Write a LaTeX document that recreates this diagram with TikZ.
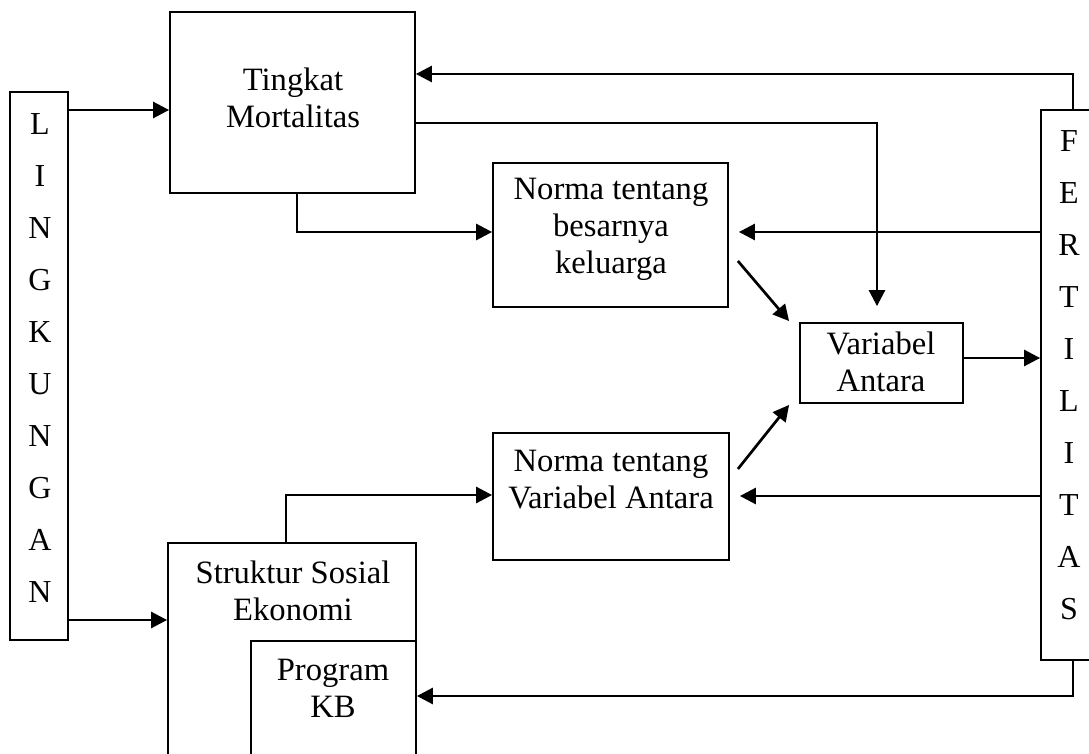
\documentclass[tikz,border=0pt]{standalone}
\usepackage{fontspec}
\setmainfont{Liberation Serif}
\usetikzlibrary{arrows.meta}
\tikzset{
	box/.style={draw, line width=0.9pt, inner sep=0pt, align=center, font=\fontsize{16}{18.5}\selectfont},
	txt/.style={align=center, inner sep=0pt, font=\fontsize{16.3}{18.5}\selectfont},
	letters/.style={align=center, inner sep=0pt, font=\fontsize{16}{26}\selectfont},
	arr/.style={line width=1.35pt, -{Triangle[length=8pt, width=8pt]}}
}

\begin{document}
\begin{tikzpicture}[x=0.5pt, y=-0.5pt]
	\useasboundingbox (0,0) rectangle (1089,754);
	
	% boxes
	\node[box, minimum width=29pt, minimum height=274pt] (lingk) at (39,366) {};
	\node[letters] (lingk-l) at (40,358) {L\\I\\N\\G\\K\\U\\N\\G\\A\\N};
	\node[box, minimum width=29.5pt, minimum height=275pt] (fert) at (1070.5,385) {};
	\node[letters] (fert-l) at (1069,375) {F\\E\\R\\T\\I\\L\\I\\T\\A\\S};
	
	\node[box, minimum width=122.5pt, minimum height=90.5pt] (tingkat) at (292.5,102.5) {};
	\node[txt] (tingkat-l) at (293,98) {Tingkat\\Mortalitas};
	\node[box, minimum width=117.5pt, minimum height=72pt] (normaA) at (610.5,235) {};
	\node[txt] (normaA-l) at (611,229) {Norma tentang\\besarnya\\keluarga};
	\node[box, minimum width=81.5pt, minimum height=40pt] (varant) at (881.5,363) {};
	\node[txt] (varant-l) at (881,362) {Variabel\\Antara};
	\node[box, minimum width=118pt, minimum height=63.5pt] (normaB) at (611,496.5) {};
	\node[txt] (normaB-l) at (611,480) {Norma tentang\\Variabel Antara};
	\node[box, minimum width=124pt, minimum height=118.5pt] (struktur) at (292,661.5) {};
	\node[txt] (struktur-l) at (293,591) {Struktur Sosial\\Ekonomi};
	\node[box, fill=white, minimum width=82.5pt, minimum height=69.5pt] (program) at (333.5,710.5) {};
	\node[txt] (program-l) at (333,688) {Program\\KB};
	
	% connectors
	\draw[arr] (lingk.east |- 0,110) -- (tingkat.west |- 0,110);
	\draw[arr] (lingk.east |- 0,620) -- (struktur.west |- 0,620);
	\draw[arr] (fert.north -| 1073,0) |- (tingkat.east |- 0,74);
	\draw[arr] (fert.south -| 1073,0) |- (program.east |- 0,696);
	\draw[arr] (tingkat.south -| 297,0) |- (normaA.west |- 0,232);
	\draw[arr, shorten >=8pt] (tingkat.east |- 0,123) -| (varant.north -| 877,0);
	\draw[arr, shorten >=5pt] (fert.west |- 0,232) -- (normaA.east |- 0,232);
	\draw[arr, shorten >=5pt] (fert.west |- 0,496) -- (normaB.east |- 0,496);
	\draw[arr] (struktur.north -| 286,0) |- (normaB.west |- 0,495);
	\draw[arr] (varant.east |- 0,358) -- (fert.west |- 0,358);
	\draw[arr] ([shift={(9,26)}]normaA.east) -- ([shift={(-10,-1)}]varant.north west);
	\draw[arr] ([shift={(8,-27.5)}]normaB.east) -- ([shift={(-10,1)}]varant.south west);
\end{tikzpicture}
\end{document}
